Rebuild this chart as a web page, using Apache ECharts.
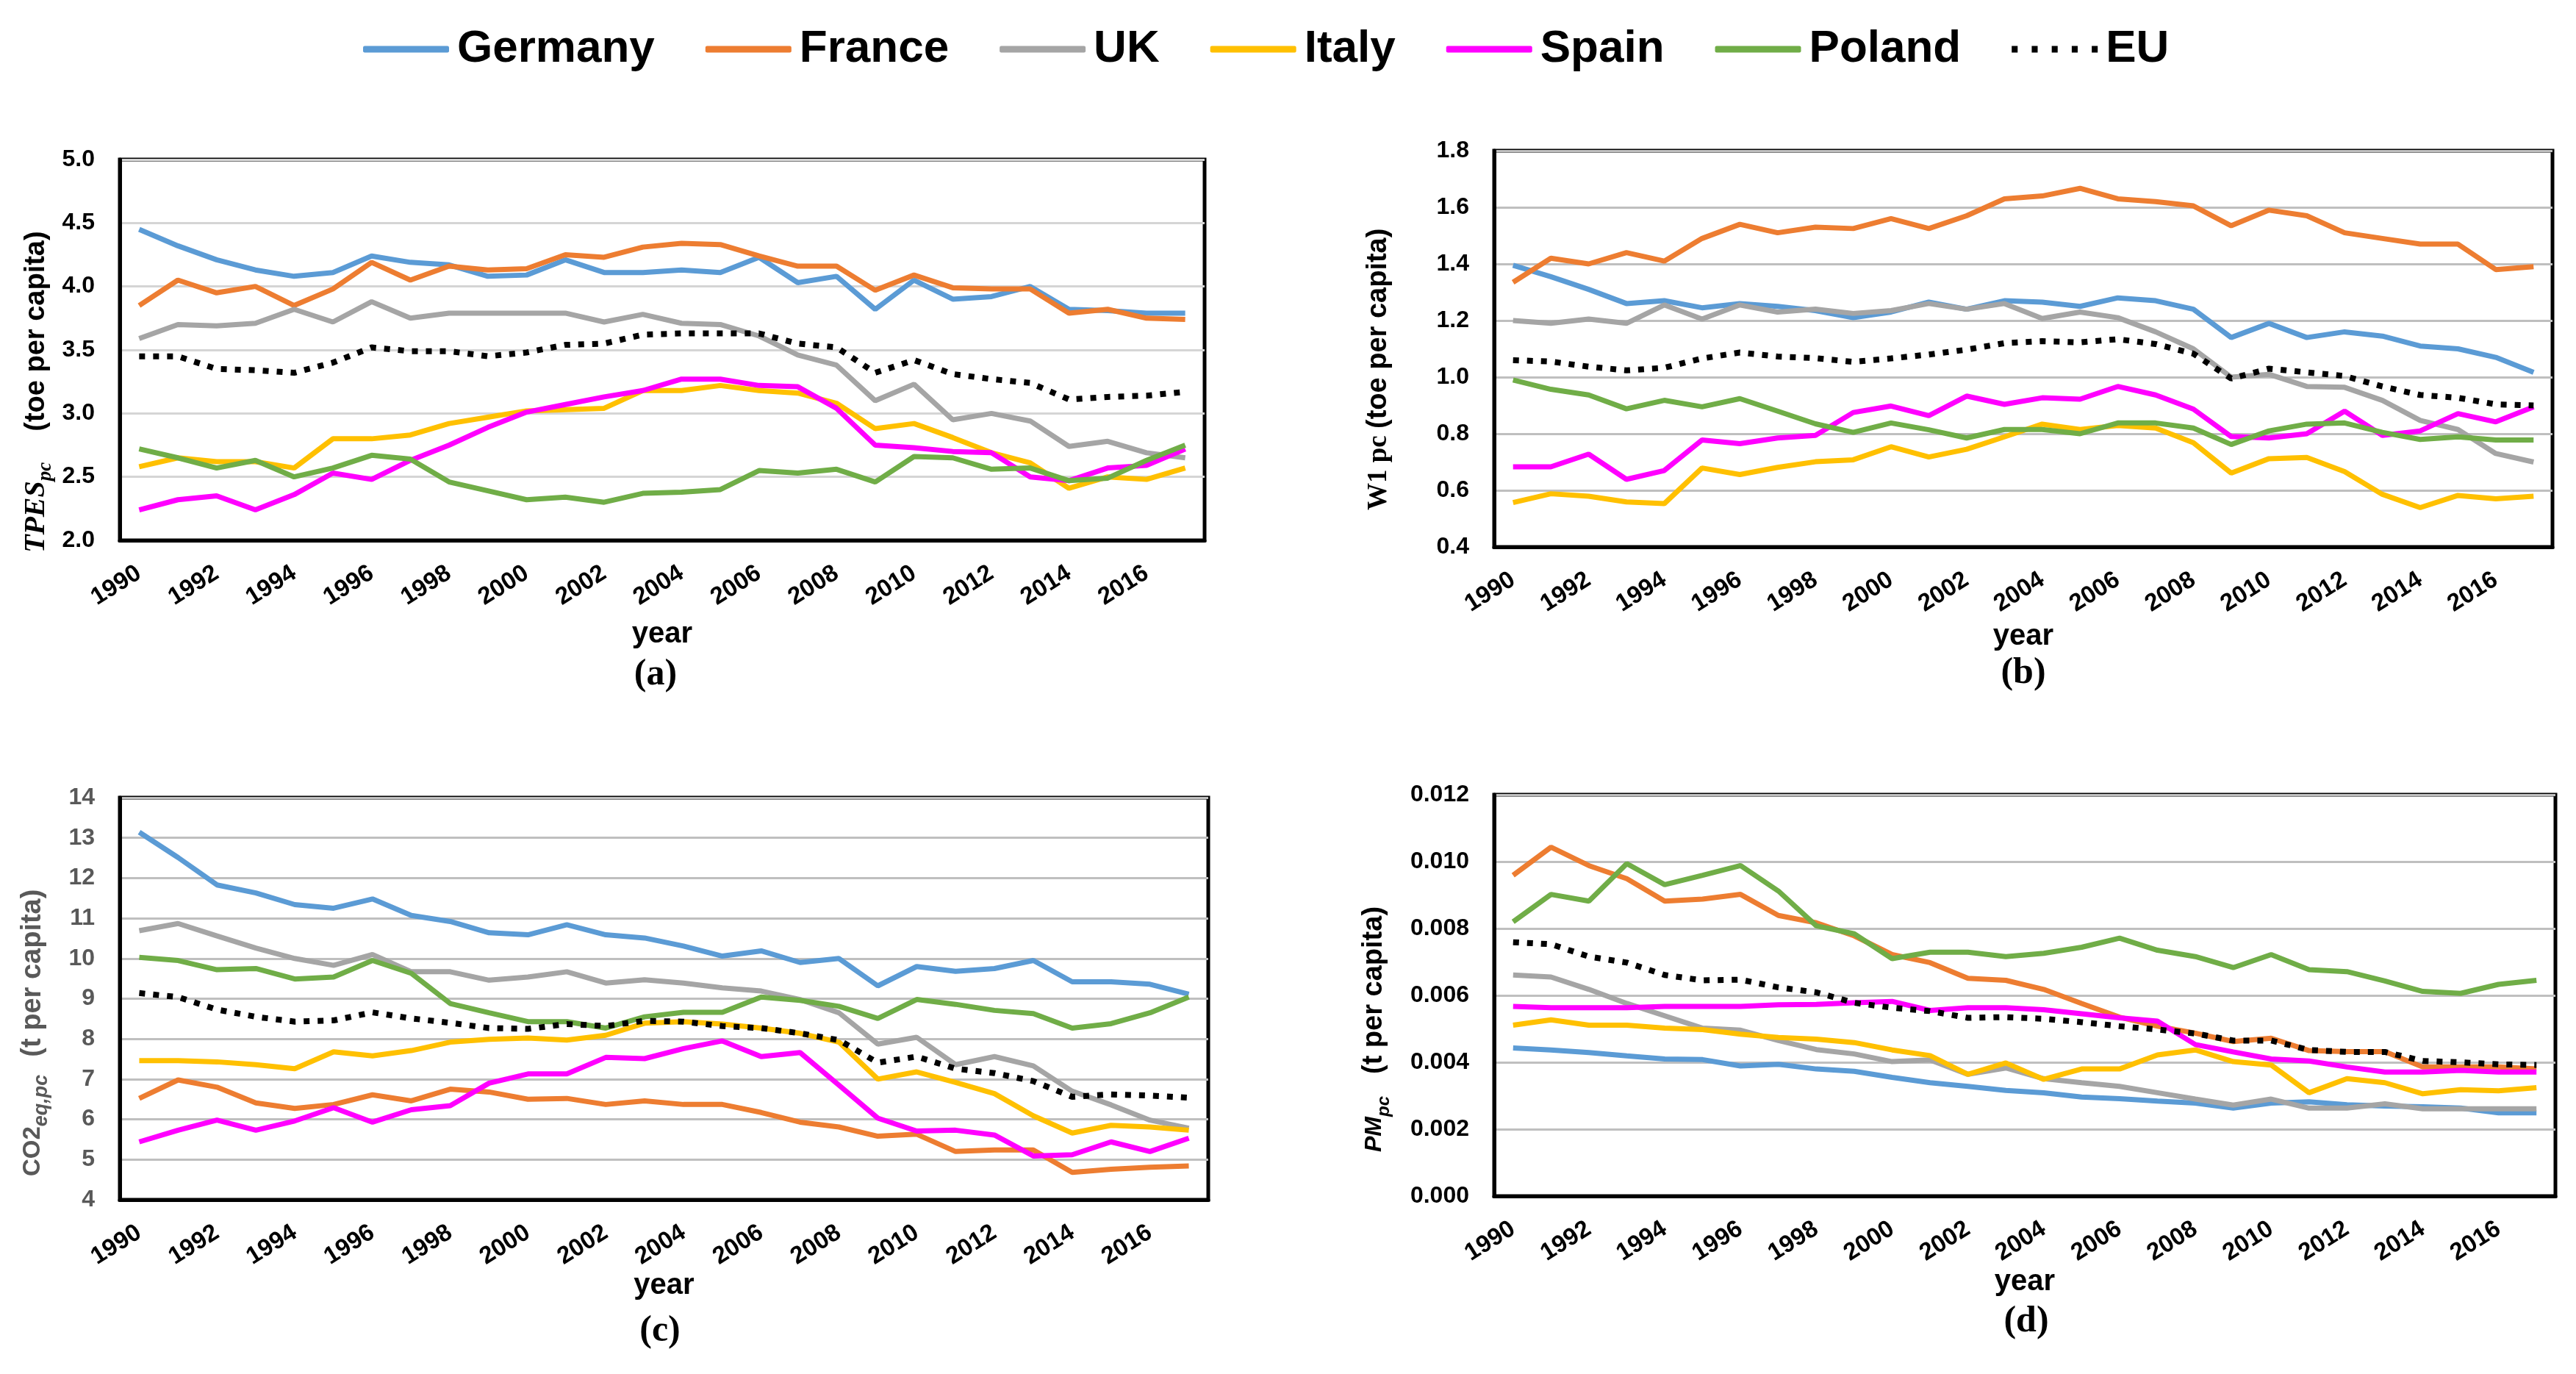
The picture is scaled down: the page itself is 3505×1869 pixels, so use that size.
<!DOCTYPE html>
<html>
<head>
<meta charset="utf-8">
<script src="https://cdn.jsdelivr.net/npm/echarts@6/dist/echarts.min.js"></script>
<style>
html,body{margin:0;padding:0;background:#fff;}
#chart{width:3505px;height:1869px;}
</style>
</head>
<body>
<div id="chart"></div>
<script>
const years = ['1990','1991','1992','1993','1994','1995','1996','1997','1998','1999','2000','2001','2002','2003','2004','2005','2006','2007','2008','2009','2010','2011','2012','2013','2014','2015','2016','2017'];
const countries = ['Germany','France','UK','Italy','Spain','Poland','EU'];

// (a) TPES per capita (toe per capita)
const tpesGermany = [4.45,4.32,4.21,4.13,4.08,4.11,4.24,4.19,4.17,4.08,4.09,4.21,4.11,4.11,4.13,4.11,4.23,4.03,4.08,3.82,4.05,3.90,3.92,4.00,3.82,3.81,3.79,3.79];
const tpesFrance  = [3.85,4.05,3.95,4.00,3.85,3.98,4.19,4.05,4.16,4.13,4.14,4.25,4.23,4.31,4.34,4.33,4.24,4.16,4.16,3.97,4.09,3.99,3.98,3.98,3.79,3.82,3.75,3.74];
const tpesUK      = [3.59,3.70,3.69,3.71,3.82,3.72,3.88,3.75,3.79,3.79,3.79,3.79,3.72,3.78,3.71,3.70,3.61,3.46,3.38,3.10,3.23,2.95,3.00,2.94,2.74,2.78,2.69,2.65];
const tpesItaly   = [2.58,2.65,2.62,2.62,2.57,2.80,2.80,2.83,2.92,2.97,3.02,3.03,3.04,3.18,3.18,3.22,3.18,3.16,3.08,2.88,2.92,2.81,2.69,2.61,2.41,2.50,2.48,2.57];
const tpesSpain   = [2.24,2.32,2.35,2.24,2.36,2.53,2.48,2.63,2.75,2.89,3.01,3.07,3.13,3.18,3.27,3.27,3.22,3.21,3.04,2.75,2.73,2.70,2.69,2.50,2.47,2.57,2.59,2.72];
const tpesPoland  = [2.72,2.65,2.57,2.63,2.50,2.57,2.67,2.64,2.46,2.39,2.32,2.34,2.30,2.37,2.38,2.40,2.55,2.53,2.56,2.46,2.66,2.65,2.56,2.57,2.47,2.49,2.63,2.75];
const tpesEU      = [3.45,3.45,3.35,3.34,3.32,3.40,3.52,3.49,3.49,3.45,3.48,3.54,3.55,3.62,3.63,3.63,3.63,3.55,3.52,3.32,3.42,3.31,3.27,3.24,3.11,3.13,3.14,3.17];

// (b) W1 per capita (toe per capita)
const wiGermany = [1.395,1.355,1.31,1.26,1.27,1.245,1.26,1.25,1.235,1.21,1.23,1.265,1.24,1.27,1.265,1.25,1.28,1.27,1.24,1.14,1.19,1.14,1.16,1.145,1.11,1.10,1.07,1.017];
const wiFrance  = [1.335,1.42,1.40,1.44,1.41,1.49,1.54,1.51,1.53,1.525,1.56,1.525,1.57,1.63,1.64,1.667,1.63,1.62,1.605,1.535,1.59,1.57,1.51,1.49,1.47,1.47,1.38,1.39];
const wiUK      = [1.20,1.19,1.205,1.19,1.255,1.205,1.255,1.23,1.24,1.225,1.235,1.26,1.24,1.26,1.207,1.23,1.21,1.16,1.10,1.00,1.01,0.967,0.964,0.918,0.847,0.815,0.73,0.70];
const wiItaly   = [0.557,0.588,0.579,0.559,0.553,0.679,0.656,0.681,0.701,0.708,0.754,0.718,0.745,0.789,0.834,0.815,0.829,0.82,0.768,0.661,0.712,0.716,0.666,0.586,0.539,0.582,0.57,0.579];
const wiSpain   = [0.683,0.683,0.728,0.639,0.67,0.778,0.765,0.785,0.794,0.875,0.898,0.864,0.933,0.904,0.927,0.922,0.967,0.937,0.887,0.79,0.785,0.80,0.88,0.794,0.81,0.871,0.842,0.895];
const wiPoland  = [0.99,0.957,0.937,0.888,0.918,0.895,0.924,0.88,0.835,0.805,0.838,0.814,0.785,0.815,0.815,0.80,0.838,0.838,0.82,0.762,0.81,0.834,0.838,0.805,0.78,0.789,0.778,0.778];
const wiEU      = [1.06,1.055,1.037,1.024,1.033,1.066,1.087,1.073,1.067,1.054,1.066,1.08,1.097,1.12,1.127,1.123,1.134,1.117,1.083,0.995,1.03,1.017,1.004,0.967,0.937,0.927,0.904,0.90];

// (c) CO2eq per capita (t per capita)
const co2Germany = [13.14,12.51,11.83,11.63,11.34,11.25,11.48,11.07,10.92,10.64,10.59,10.84,10.59,10.51,10.31,10.06,10.19,9.90,10.00,9.32,9.80,9.68,9.75,9.95,9.42,9.42,9.36,9.11];
const co2France  = [6.52,6.98,6.80,6.41,6.27,6.37,6.61,6.46,6.75,6.68,6.50,6.52,6.37,6.46,6.37,6.37,6.17,5.93,5.81,5.58,5.63,5.20,5.24,5.24,4.68,4.76,4.81,4.84];
const co2UK      = [10.69,10.87,10.56,10.26,10.00,9.83,10.10,9.67,9.67,9.46,9.54,9.67,9.39,9.47,9.39,9.27,9.19,8.98,8.65,7.87,8.04,7.36,7.56,7.33,6.70,6.36,5.98,5.78];
const co2Italy   = [7.46,7.46,7.43,7.36,7.26,7.68,7.58,7.71,7.92,7.99,8.02,7.97,8.09,8.39,8.43,8.37,8.27,8.14,7.92,7.00,7.18,6.92,6.64,6.09,5.66,5.85,5.81,5.73];
const co2Spain   = [5.44,5.73,5.98,5.73,5.96,6.29,5.93,6.24,6.34,6.90,7.13,7.13,7.54,7.51,7.76,7.95,7.56,7.66,6.85,6.03,5.71,5.73,5.61,5.09,5.12,5.44,5.20,5.53];
const co2Poland  = [10.03,9.95,9.72,9.75,9.49,9.54,9.95,9.63,8.88,8.65,8.43,8.43,8.27,8.55,8.66,8.66,9.04,8.96,8.81,8.51,8.98,8.86,8.71,8.63,8.27,8.38,8.65,9.04];
const co2EU      = [9.14,9.04,8.73,8.55,8.43,8.46,8.66,8.51,8.40,8.27,8.25,8.37,8.32,8.45,8.43,8.32,8.27,8.14,7.97,7.41,7.56,7.26,7.15,6.95,6.56,6.62,6.59,6.54];

// (d) PM per capita (t per capita)
const pmGermany = [0.00443,0.00437,0.00429,0.00419,0.00410,0.00408,0.00389,0.00394,0.00380,0.00373,0.00355,0.00339,0.00328,0.00316,0.00309,0.00296,0.00291,0.00284,0.00278,0.00263,0.00278,0.00282,0.00273,0.00269,0.00267,0.00263,0.00249,0.00249];
const pmFrance  = [0.00959,0.01043,0.00988,0.00949,0.00882,0.00888,0.00902,0.00839,0.00817,0.00778,0.00722,0.00698,0.00651,0.00645,0.00618,0.00576,0.00535,0.00508,0.00487,0.00462,0.00472,0.00435,0.00432,0.00432,0.00386,0.00386,0.00386,0.00380];
const pmUK      = [0.00661,0.00655,0.00618,0.00576,0.00539,0.00502,0.00496,0.00465,0.00438,0.00425,0.00402,0.00407,0.00364,0.00383,0.00351,0.00339,0.00328,0.00309,0.00290,0.00272,0.00290,0.00263,0.00263,0.00276,0.00261,0.00261,0.00261,0.00261];
const pmItaly   = [0.00511,0.00527,0.00511,0.00511,0.00502,0.00498,0.00484,0.00474,0.00469,0.00459,0.00437,0.00420,0.00364,0.00398,0.00349,0.00380,0.00380,0.00422,0.00437,0.00402,0.00392,0.00309,0.00351,0.00339,0.00306,0.00318,0.00315,0.00324];
const pmSpain   = [0.00567,0.00563,0.00563,0.00563,0.00567,0.00567,0.00567,0.00572,0.00573,0.00578,0.00582,0.00555,0.00563,0.00563,0.00557,0.00545,0.00533,0.00523,0.00453,0.00431,0.00410,0.00404,0.00386,0.00371,0.00371,0.00376,0.00371,0.00371];
const pmPoland  = [0.00820,0.00902,0.00882,0.00994,0.00931,0.00959,0.00988,0.00912,0.00808,0.00784,0.00710,0.00729,0.00729,0.00716,0.00726,0.00744,0.00771,0.00735,0.00716,0.00683,0.00722,0.00677,0.00671,0.00643,0.00612,0.00606,0.00633,0.00645];
const pmEU      = [0.00759,0.00753,0.00716,0.00698,0.00661,0.00645,0.00647,0.00624,0.00609,0.00578,0.00563,0.00553,0.00533,0.00535,0.00530,0.00520,0.00508,0.00498,0.00486,0.00465,0.00465,0.00437,0.00431,0.00431,0.00404,0.00400,0.00394,0.00392];

// y-axis ranges and tick label formats
const yRanges = [
  {min: 2.0, max: 5.0, interval: 0.5, digits: 1},
  {min: 0.4, max: 1.8, interval: 0.2, digits: 1},
  {min: 4, max: 14, interval: 1, digits: 0},
  {min: 0, max: 0.012, interval: 0.002, digits: 3}
];

const panelData = [
  [tpesGermany, tpesFrance, tpesUK, tpesItaly, tpesSpain, tpesPoland, tpesEU],
  [wiGermany, wiFrance, wiUK, wiItaly, wiSpain, wiPoland, wiEU],
  [co2Germany, co2France, co2UK, co2Italy, co2Spain, co2Poland, co2EU],
  [pmGermany, pmFrance, pmUK, pmItaly, pmSpain, pmPoland, pmEU]
];

const colors = ['#5B9BD5','#ED7D31','#A5A5A5','#FFC000','#FF00FF','#70AD47','#000000'];

const SANS = "'Liberation Sans', Arial, sans-serif";
const SERIF = "'Liberation Serif', 'Times New Roman', serif";

const grids = [
  {left: 163, top: 217, width: 1476, height: 518},
  {left: 2033, top: 205, width: 1440, height: 539},
  {left: 163, top: 1085, width: 1481, height: 547},
  {left: 2033, top: 1081, width: 1444, height: 546}
];
const yearGaps = [108, 102, 84, 89];
const gridLineColors = ['#d5d5d5', '#bfbfbf', '#bfbfbf', '#bfbfbf'];
const yLabelColors = ['#000', '#000', '#595959', '#000'];

// dotted legend icon for EU (117 x 9 box)
const dottedIcon = 'path://M0 0H8V9H0Z M27 0H35V9H27Z M54 0H62V9H54Z M81 0H89V9H81Z M108 0H116V9H108Z';

const option = {
  backgroundColor: '#fff',
  animation: false,
  color: colors,
  legend: {
    data: countries.map((n, i) => ({
      name: n,
      icon: n === 'EU' ? dottedIcon : 'roundRect',
      itemStyle: {color: colors[i]}
    })),
    left: 494,
    top: 36,
    padding: 0,
    itemWidth: 117,
    itemHeight: 9,
    itemGap: 69,
    symbolKeepAspect: false,
    textStyle: {fontFamily: SANS, fontWeight: 'bold', fontSize: 62, color: '#000', padding: [0, 0, 0, 6]}
  },
  grid: grids.map(g => Object.assign({show: true, borderColor: '#000', borderWidth: 5, backgroundColor: 'transparent', containLabel: false, outerBoundsMode: 'none'}, g)),
  xAxis: grids.map((g, i) => ({
    type: 'category',
    gridIndex: i,
    data: years,
    boundaryGap: true,
    name: 'year',
    nameLocation: 'middle',
    nameGap: yearGaps[i],
    nameTextStyle: {fontFamily: SANS, fontWeight: 'bold', fontSize: 40, color: '#000'},
    axisLine: {show: true, lineStyle: {color: '#000', width: 5}},
    axisTick: {show: false},
    axisLabel: {interval: 1, rotate: 32, margin: 42, fontFamily: SANS, fontWeight: 'bold', fontSize: 33, color: '#000'},
    splitLine: {show: false}
  })),
  yAxis: yRanges.map((r, i) => ({
    type: 'value',
    gridIndex: i,
    min: r.min,
    max: r.max,
    interval: r.interval,
    axisLine: {show: true, lineStyle: {color: '#000', width: 5}},
    axisTick: {show: false},
    axisLabel: {margin: 34, fontFamily: SANS, fontWeight: 'bold', fontSize: 32, color: yLabelColors[i],
      formatter: v => v.toFixed(r.digits)},
    splitLine: {show: true, lineStyle: {color: gridLineColors[i], width: 3}}
  })),
  series: [],
  graphic: []
};

panelData.forEach((set, p) => {
  set.forEach((vals, c) => {
    const isEU = countries[c] === 'EU';
    option.series.push({
      type: 'line',
      name: countries[c],
      xAxisIndex: p,
      yAxisIndex: p,
      data: vals,
      symbol: 'none',
      smooth: false,
      z: isEU ? 4 : 3,
      lineStyle: isEU
        ? {color: '#000', width: 8, type: [8, 11]}
        : {color: colors[c], width: 7}
    });
  });
});

// y-axis titles (rotated rich text) and panel letters
const yTitles = [
  {x: 50, y: 752, color: '#000', text: '{m|TPES}{s|pc}{n|(toe per capita)}',
   rich: {
     m: {fontFamily: SERIF, fontStyle: 'italic', fontWeight: 'bold', fontSize: 40, lineHeight: 52},
     s: {fontFamily: SERIF, fontStyle: 'italic', fontWeight: 'bold', fontSize: 27, lineHeight: 30, verticalAlign: 'bottom'},
     n: {fontFamily: SANS, fontWeight: 'bold', fontSize: 38, lineHeight: 52, padding: [0, 0, 0, 42]}
   }},
  {x: 1876, y: 694, color: '#000', text: '{m|W1 pc }{n|(toe per capita)}',
   rich: {
     m: {fontFamily: SERIF, fontWeight: 'bold', fontSize: 37, lineHeight: 50},
     n: {fontFamily: SANS, fontWeight: 'bold', fontSize: 38, lineHeight: 50}
   }},
  {x: 45, y: 1600, color: '#595959', text: '{m|CO2}{s|eq,pc}{n|(t per capita)}',
   rich: {
     m: {fontFamily: SANS, fontWeight: 'bold', fontSize: 33, lineHeight: 50, color: '#595959'},
     s: {fontFamily: SANS, fontStyle: 'italic', fontWeight: 'bold', fontSize: 27, lineHeight: 30, verticalAlign: 'bottom', color: '#595959'},
     n: {fontFamily: SANS, fontWeight: 'bold', fontSize: 38, lineHeight: 50, color: '#595959', padding: [0, 0, 0, 24]}
   }},
  {x: 1870, y: 1567, color: '#000', text: '{m|PM}{s|pc}{n|(t per capita)}',
   rich: {
     m: {fontFamily: SANS, fontStyle: 'italic', fontWeight: 'bold', fontSize: 32, lineHeight: 50},
     s: {fontFamily: SANS, fontStyle: 'italic', fontWeight: 'bold', fontSize: 24, lineHeight: 30, verticalAlign: 'bottom'},
     n: {fontFamily: SANS, fontWeight: 'bold', fontSize: 38, lineHeight: 50, padding: [0, 0, 0, 30]}
   }}
];
yTitles.forEach(t => {
  option.graphic.push({
    type: 'text',
    x: t.x,
    y: t.y,
    rotation: Math.PI / 2,
    style: {text: t.text, rich: t.rich, fill: t.color, align: 'left', verticalAlign: 'middle'}
  });
});

const panelLetters = [
  {t: '(a)', x: 892, y: 918},
  {t: '(b)', x: 2753, y: 916},
  {t: '(c)', x: 898, y: 1811},
  {t: '(d)', x: 2757, y: 1798}
];
panelLetters.forEach(l => {
  option.graphic.push({
    type: 'text',
    x: l.x,
    y: l.y,
    style: {text: l.t, fill: '#000', font: "bold 50px 'Liberation Serif', 'Times New Roman', serif", align: 'center', verticalAlign: 'middle'}
  });
});

const chart = echarts.init(document.getElementById('chart'), null, {renderer: 'canvas', width: 3505, height: 1869});
chart.setOption(option);
</script>
</body>
</html>
